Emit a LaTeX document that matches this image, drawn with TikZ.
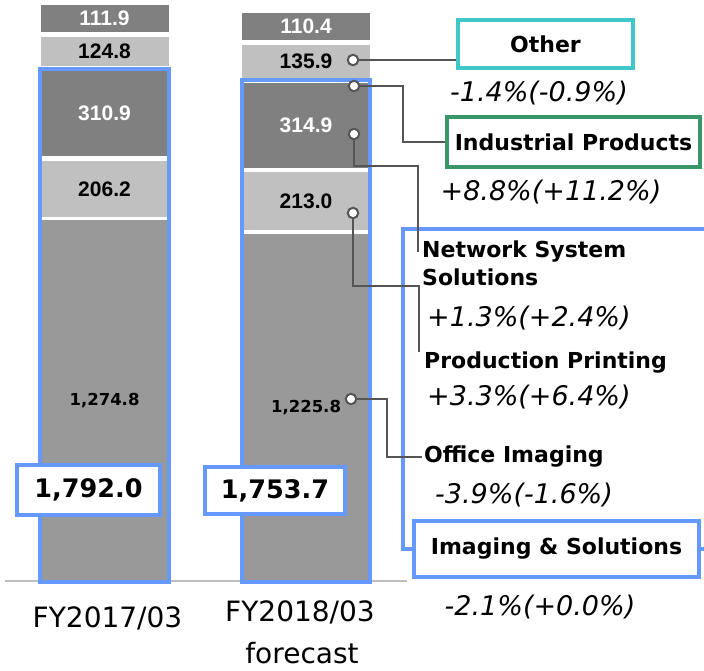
\documentclass[tikz,border=0pt]{standalone}
\usepackage{fontspec}
\setmainfont{DejaVu Sans}
\newfontfamily\arialfont{Liberation Sans}
\usetikzlibrary{positioning,calc}

\definecolor{segdark}{RGB}{128,128,128}
\definecolor{seglight}{RGB}{192,192,192}
\definecolor{segbase}{RGB}{153,153,153}
\definecolor{isblue}{RGB}{102,153,255}
\definecolor{otherteal}{RGB}{64,200,200}
\definecolor{indgreen}{RGB}{56,150,104}
\definecolor{wirecol}{RGB}{85,85,85}
\definecolor{axiscol}{RGB}{190,190,190}

\tikzset{
  seg/.style={minimum width=128pt, inner sep=0pt,
    font=\arialfont\fontsize{21}{21}\selectfont\bfseries},
  darkseg/.style={seg, fill=segdark, text=white, minimum height=#1},
  lightseg/.style={seg, fill=seglight, minimum height=#1},
  baseseg/.style={seg, fill=segbase, minimum height=#1,
    font=\fontsize{16.5}{16.5}\selectfont\bfseries},
  barframe/.style={draw=isblue, line width=3.8pt},
  totbox/.style={draw=isblue, fill=white, line width=3.8pt, inner sep=0pt,
    font=\fontsize{25.5}{25.5}\selectfont\bfseries},
  labbox/.style={fill=white, line width=3.8pt, inner sep=0pt,
    font=\fontsize{22}{22}\selectfont\bfseries},
  tag/.style={inner sep=0pt, align=left,
    font=\fontsize{22}{28}\selectfont\bfseries},
  pct/.style={inner sep=0pt, font=\fontsize{27}{27}\selectfont\itshape},
  cat/.style={inner sep=0pt, font=\fontsize{28}{28}\selectfont},
  dot/.style={circle, draw=wirecol, fill=white, line width=2pt,
    minimum size=10.5pt, inner sep=0pt},
  wire/.style={draw=wirecol, line width=2.4pt},
  isline/.style={draw=isblue, line width=3.8pt},
}

\begin{document}
\begin{tikzpicture}[x=1pt,y=-1pt]
  \useasboundingbox[fill=white] (0,0) rectangle (704,670);
  \draw[axiscol, line width=1.5pt] (5,581) -- (407,581);

  % FY2017/03 bar
  \node[darkseg=27]  (a1) at (104.5,18.5)  {111.9};
  \node[lightseg=29] (a2) at (104.5,51.5)  {124.8};
  \node[darkseg=85]  (a3) at (104.5,113.5) {310.9};
  \node[lightseg=56] (a4) at (104.5,189)   {206.2};
  \node[baseseg=361] (a5) at (104.5,400.5) {1,274.8};
  \draw[barframe] ([yshift=2pt]a3.north west) rectangle ([yshift=-1pt]a5.south east);

  % FY2018/03 forecast bar
  \node[darkseg=27]  (b1) at (306,26.5)  {110.4};
  \node[lightseg=33] (b2) at (306,61.5)  {135.9};
  \node[darkseg=85]  (b3) at (306,125.5) {314.9};
  \node[lightseg=58] (b4) at (306,201)   {213.0};
  \node[baseseg=347] (b5) at (306,407.5) {1,225.8};
  \draw[barframe] ([yshift=3pt]b3.north west) rectangle ([yshift=-1pt]b5.south east);

  % totals
  \node[totbox, minimum width=143pt, minimum height=50pt] (t1) at (88.5,490) {1,792.0};
  \node[totbox, minimum width=140pt, minimum height=47pt] (t2) at (275,490.5) {1,753.7};

  \node[cat] (c1) at (107.5,618) {FY2017/03};
  \node[cat] (c2) at (300,612) {FY2018/03};
  \node[cat] (c3) at (302,653) {forecast};

  % segment labels
  \node[labbox, draw=otherteal, minimum width=175pt, minimum height=48pt] (other) at (545.5,44) {Other};
  \node[pct] (p1) at (539,93) {-1.4\%(-0.9\%)};
  \node[labbox, draw=indgreen, minimum width=253pt, minimum height=50pt] (indus) at (573.5,142) {Industrial Products};
  \node[pct] (p2) at (551,192) {+8.8\%(+11.2\%)};

  \coordinate (isr) at (704,229);
  \node[labbox, draw=isblue, minimum width=285pt, minimum height=56pt] (imgsol) at (556.5,549) {Imaging \& Solutions};
  \draw[isline] (isr) -- ++(-301,0) |- (imgsol.west);
  \draw[isline] (imgsol.east) -- ++(8,0);
  \node[pct] (p6) at (540,607) {-2.1\%(+0.0\%)};

  \node[tag, anchor=north west] (nss) at (422,241) {Network System\\Solutions};
  \node[pct, anchor=west] (p3) at (427,318) {+1.3\%(+2.4\%)};
  \node[tag, anchor=west] (pp) at (424,363) {Production Printing};
  \node[pct, anchor=west] (p4) at (427,397) {+3.3\%(+6.4\%)};
  \node[tag, anchor=west] (oi) at (424,457) {Office Imaging};
  \node[pct, anchor=west] (p5) at (435,495) {-3.9\%(-1.6\%)};

  % leader lines
  \node[dot] (d1) at (353,60)  {};
  \node[dot] (d2) at (354,86)  {};
  \node[dot] (d3) at (354,134) {};
  \node[dot] (d4) at (353,213) {};
  \node[dot] (d5) at (351,399) {};
  \draw[wire] (d1) -- (d1 -| other.west);
  \draw[wire] (d2) -- ++(49,0) |- (indus.west);
  \draw[wire] (d3) -- ++(0,32) -| ([xshift=-4pt,yshift=-11pt]nss.north west);
  \draw[wire] (d4) -- ++(0,73) -| ([xshift=-5pt,yshift=11pt]pp.west);
  \draw[wire] (d5) -- ++(36,0) |- ([xshift=-2pt]oi.west);
\end{tikzpicture}
\end{document}
